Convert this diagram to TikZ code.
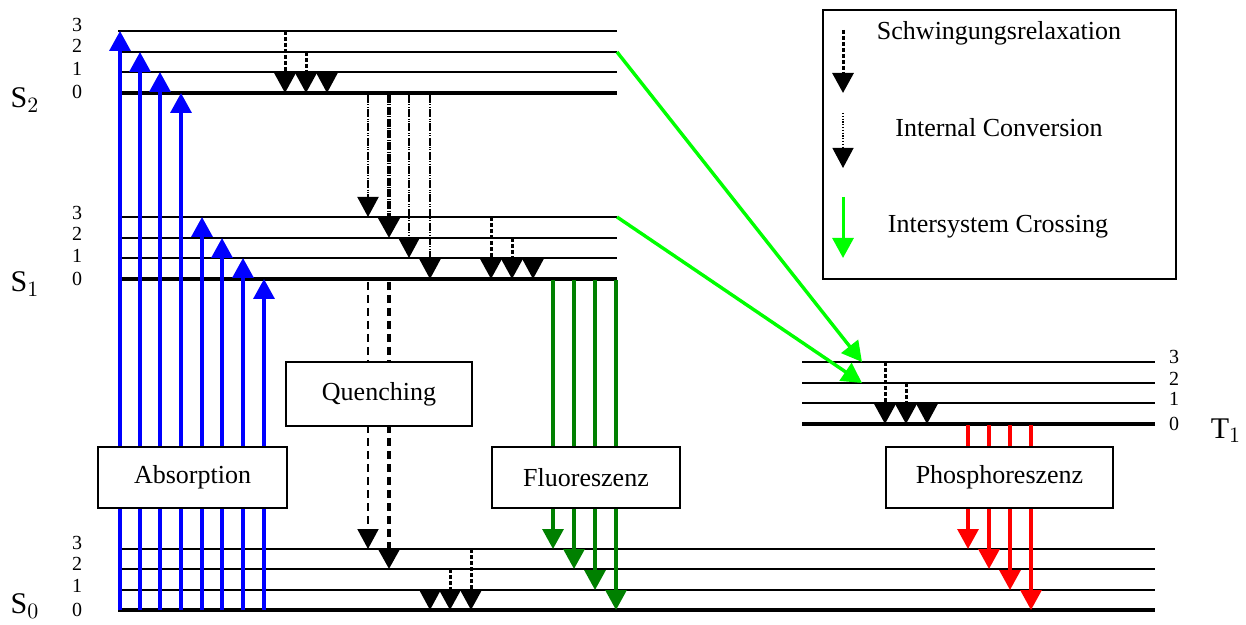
\documentclass[tikz,border=0pt]{standalone}
\usepackage{fontspec}
\setmainfont{Liberation Serif}
\usetikzlibrary{arrows.meta}
\definecolor{flgreen}{RGB}{0,128,0}
\definecolor{iscgreen}{RGB}{0,255,0}
\definecolor{absblue}{RGB}{0,0,255}
\definecolor{phred}{RGB}{255,0,0}
\begin{document}
\begin{tikzpicture}[x=0.5pt,y=-0.5pt,
  lvl/.style={line width=1.1pt},
  lvlzero/.style={line width=2.2pt},
  head/.style={-{Triangle[width=10.5pt,length=10pt]}},
  absarr/.style={head,absblue,line width=1.7pt},
  vr/.style={head,line width=1.5pt,dash pattern=on 2pt off 1pt},
  ic/.style={head,line width=1pt,dash pattern=on 4pt off 0.7pt on 0.5pt off 0.7pt on 0.5pt off 0.7pt},
  icthick/.style={head,line width=2pt,dash pattern=on 4pt off 0.7pt on 0.5pt off 0.7pt},
  qu/.style={head,line width=1pt,dash pattern=on 4pt off 2.5pt},
  quthick/.style={head,line width=2pt,dash pattern=on 4pt off 2.5pt},
  fl/.style={head,flgreen,line width=1.6pt},
  ph/.style={head,phred,line width=1.6pt},
  isc/.style={head,iscgreen,line width=1.7pt},
  boxnode/.style={draw,fill=white,line width=1pt,inner sep=0pt,font=\fontsize{13}{15}\selectfont},
  num/.style={font=\fontsize{10}{11}\selectfont,inner sep=0pt},
  state/.style={font=\fontsize{15}{17}\selectfont,inner sep=0pt},
  legtext/.style={font=\fontsize{13}{15}\selectfont,inner sep=0pt}]
\useasboundingbox (0,0) rectangle (1246,625);
% ---------- levels ----------
\foreach \y in {31,52,72} \draw[lvl] (118,\y) -- (617,\y);
\draw[lvlzero] (118,93) -- (617,93);
\foreach \y in {217,238,258} \draw[lvl] (118,\y) -- (617,\y);
\draw[lvlzero] (118,279) -- (617,279);
\foreach \y in {362,383,403} \draw[lvl] (802,\y) -- (1155,\y);
\draw[lvlzero] (802,424) -- (1155,424);
\foreach \y in {549,569,590} \draw[lvl] (118,\y) -- (1155,\y);
\draw[lvlzero] (118,610) -- (1155,610);
% named coordinates
\coordinate (S2v2) at (617,52);
\coordinate (S1v3) at (617,217);
\coordinate (T1v3) at (862,362);
\coordinate (T1v2) at (862,383);
% ---------- level numbers ----------
\node[num] (n23) at (77,25) {3};
\node[num] (n22) at (77,46) {2};
\node[num] (n21) at (77,69) {1};
\node[num] (n20) at (77,92) {0};
\node[num] (n13) at (77,213) {3};
\node[num] (n12) at (77,234) {2};
\node[num] (n11) at (77,256) {1};
\node[num] (n10) at (77,279) {0};
\node[num] (n03) at (77,543) {3};
\node[num] (n02) at (77,564) {2};
\node[num] (n01) at (77,586) {1};
\node[num] (n00) at (77,610) {0};
\node[num] (t3) at (1174,357) {3};
\node[num] (t2) at (1174,379) {2};
\node[num] (t1) at (1174,399) {1};
\node[num] (t0) at (1174,424) {0};
\node[state] (S2) at (25,100) {S$_2$};
\node[state] (S1) at (25,284) {S$_1$};
\node[state] (S0) at (25,606) {S$_0$};
\node[state] (T1) at (1226,431) {T$_1$};
% ---------- absorption ----------
\foreach \x/\y in {120/31,140/52,160/72,181/93,202/217,222/238,243/258,264/279}
  \draw[absarr] (\x,610) -- (\x,\y);
% ---------- vibrational relaxation ----------
\draw[vr] (285,31) -- (285,93);
\draw[vr] (306,52) -- (306,93);
\draw[head,line width=1pt] (327,74) -- (327,93);
\draw[vr] (491,217) -- (491,279);
\draw[vr] (512,238) -- (512,279);
\draw[head,line width=1pt] (533,260) -- (533,279);
\draw[vr] (885,362) -- (885,424);
\draw[vr] (906,383) -- (906,424);
\draw[head,line width=1pt] (927,405) -- (927,424);
\draw[head,line width=1pt] (430,591) -- (430,610);
\draw[vr] (450,569) -- (450,610);
\draw[vr] (471,549) -- (471,610);
% ---------- internal conversion ----------
\draw[ic] (368,95) -- (368,217);
\draw[icthick] (389,95) -- (389,238);
\draw[ic] (409,95) -- (409,258);
\draw[ic] (430,95) -- (430,279);
% ---------- quenching ----------
\draw[qu] (368,282) -- (368,549);
\draw[quthick] (389,282) -- (389,569);
% ---------- fluorescence ----------
\foreach \x/\y in {553/549,574/569,595/590,616/610}
  \draw[fl] (\x,280) -- (\x,\y);
% ---------- phosphorescence ----------
\foreach \x/\y in {968/549,989/569,1010/590,1031/610}
  \draw[ph] (\x,425) -- (\x,\y);
% ---------- intersystem crossing ----------
\draw[isc] (S2v2) -- (T1v3);
\draw[isc] (S1v3) -- (T1v2);
% ---------- boxes ----------
\node[boxnode,minimum width=94.5pt,minimum height=30.5pt] (abs) at (192.5,477.5) {Absorption};
\node[boxnode,minimum width=93pt,minimum height=32pt] (que) at (379,394) {Quenching};
\node[boxnode,minimum width=94pt,minimum height=30.5pt] (flu) at (586,477.5) {Fluoreszenz};
\node[boxnode,minimum width=113.5pt,minimum height=30.5pt] (pho) at (999.5,477.5) {Phosphoreszenz};
% ---------- legend ----------
\node[draw,line width=1.2pt,minimum width=176.5pt,minimum height=134.5pt,inner sep=0pt] (legend) at (999.5,144.5) {};
\draw[vr] (843,30) -- (843,93);
\draw[head,line width=0.6pt,dash pattern=on 0.6pt off 0.8pt] (843,113) -- (843,168);
\draw[isc,line width=1.5pt] (843,197) -- (843,258);
\node[legtext] (l1) at (999,33) {Schwingungsrelaxation};
\node[legtext] (l2) at (999,128) {Internal Conversion};
\node[legtext] (l3) at (998,227) {Intersystem Crossing};
\end{tikzpicture}
\end{document}
